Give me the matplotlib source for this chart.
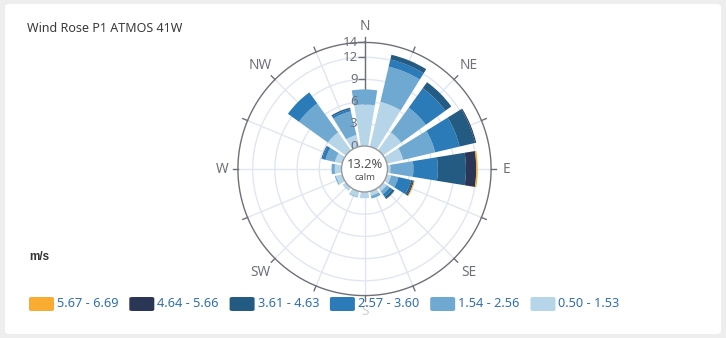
import numpy as np
import matplotlib
matplotlib.use("Agg")
import matplotlib.pyplot as plt
from matplotlib.patches import FancyBboxPatch, Circle
from matplotlib import markers
from matplotlib.transforms import offset_copy

plt.rcParams['font.family'] = ['Noto Sans', 'DejaVu Sans']

# ---- data ----
directions = ["N", "NNE", "NE", "ENE", "E", "ESE", "SE", "SSE",
              "S", "SSW", "SW", "WSW", "W", "WNW", "NW", "NNW"]
speed_bins = ["0.50 - 1.53", "1.54 - 2.56", "2.57 - 3.60",
              "3.61 - 4.63", "4.64 - 5.66", "5.67 - 6.69"]
# frequency (%) per direction, one list per speed bin
freq_050_153 = [5.6, 6.2, 3.0, 2.25, 0.4, 0.6, 0.6, 0.6, 0.85, 0.75, 0.55, 0.85, 0.9, 1.0, 3.0, 1.6]
freq_154_256 = [2.05, 4.9, 4.1, 4.45, 3.1, 1.0, 0.5, 0.4, 0.0, 0.1, 0.0, 0.15, 0.45, 1.3, 4.8, 3.3]
freq_257_360 = [0.0, 1.0, 3.25, 3.4, 3.3, 1.75, 0.45, 0.0, 0.0, 0.0, 0.0, 0.0, 0.0, 0.45, 1.85, 0.3]
freq_361_463 = [0.0, 0.65, 1.0, 2.15, 3.8, 0.25, 0.3, 0.0, 0.0, 0.0, 0.0, 0.0, 0.0, 0.12, 0.0, 0.2]
freq_464_566 = [0.0, 0.0, 0.0, 0.15, 1.4, 0.15, 0.05, 0.0, 0.0, 0.0, 0.0, 0.0, 0.0, 0.0, 0.0, 0.0]
freq_567_669 = [0.0, 0.0, 0.0, 0.0, 0.2, 0.12, 0.0, 0.0, 0.0, 0.0, 0.0, 0.0, 0.0, 0.0, 0.0, 0.0]
calm_pct = 13.2
radial_ticks = [0, 3, 6, 9, 12, 14]
compass_labels = ["N", "NE", "E", "SE", "S", "SW", "W", "NW"]

series = [freq_050_153, freq_154_256, freq_257_360, freq_361_463, freq_464_566, freq_567_669]
colors = ["#b7d5e8", "#6fa9d1", "#2b7bb9", "#235b83", "#2b3556", "#f9ab32"]

W, H = 726, 338
fig = plt.figure(figsize=(W / 100, H / 100), dpi=100, facecolor="#eeeeee")


def fx(px):
    return px / W


def fy(py):
    return 1 - py / H


# card
card = FancyBboxPatch((fx(5), fy(334)), fx(716), 330 / H,
                      boxstyle="round,pad=0,rounding_size=0.008",
                      transform=fig.transFigure, facecolor="white",
                      edgecolor="none", zorder=-10)
fig.patches.append(card)

fig.text(fx(27), fy(28), "Wind Rose P1 ATMOS 41W", fontsize=9,
         color="#3a3a3a", va="center", ha="left")

# polar axes
cx, cy, R = 364.5, 169.0, 126.6
ax = fig.add_axes([fx(cx - R), fy(cy + R), fx(2 * R), 2 * R / H], projection="polar")
ax.set_zorder(1)
ax.set_theta_zero_location("N")
ax.set_theta_direction(-1)
ax.set_ylim(0, 14)
ax.set_rorigin(-3.108)
ax.set_axis_off()

n = len(directions)
theta = np.arange(n) * 2 * np.pi / n
circ = np.linspace(0, 2 * np.pi, 400)
grid_c = "#e0e6f1"
axis_c = "#6e7079"

for v in radial_ticks[1:-1]:
    ax.plot(circ, np.full_like(circ, v), color=grid_c, lw=1, zorder=0)
for a in theta:
    ax.plot([a, a], [0, 14], color=grid_c, lw=1, zorder=0)
ax.plot(circ, np.full_like(circ, 14), color=axis_c, lw=1, zorder=1, clip_on=False)
for a in theta:
    ax.plot([a, a], [14, 14.7], color=axis_c, lw=1, clip_on=False)

# radial axis along north
ax.plot([0, 0], [0, 14], color=axis_c, lw=1, zorder=1)
lbl_tr = offset_copy(ax.transData, fig=fig, x=-7, y=0, units="dots")
for v in radial_ticks:
    ax.plot([0], [v], marker=markers.TICKLEFT, ms=5, mew=1, color=axis_c, zorder=1, clip_on=False)
    ax.text(0, v, str(v), transform=lbl_tr, ha="right", va="center",
            fontsize=9.5, color=axis_c, zorder=6)

# stacked bars
width = 2 * np.pi / n * 0.82
bottom = np.zeros(n)
for vals, c in zip(series, colors):
    vals = np.array(vals)
    ax.bar(theta, vals, width=width, bottom=bottom, color=c,
           edgecolor="none", linewidth=0, zorder=3)
    bottom += vals

# compass labels
for i, lab in enumerate(compass_labels):
    a = i * np.pi / 4
    rr = 16.1 if len(lab) == 1 else 16.75
    col = "#d0d0d0" if lab == "S" else axis_c
    ax.text(a, rr, lab, ha="center", va="center", fontsize=9.8,
            color=col, clip_on=False, zorder=1)

# calm circle
ax.add_patch(Circle((0.5, 0.5), 23 / (2 * R), transform=ax.transAxes,
                    facecolor="white", edgecolor="#999999", lw=1, zorder=7,
                    clip_on=False))
fig.text(fx(cx), fy(cy - 5), f"{calm_pct}%", ha="center", va="center",
         fontsize=9.3, color="#555555", zorder=8)
fig.text(fx(cx), fy(cy + 8), "calm", ha="center", va="center",
         fontsize=6.8, color="#555555", zorder=8)

# legend
fig.text(fx(29), fy(256.5), "m/s", fontsize=8.5, fontweight="bold",
         family=["Liberation Sans", "DejaVu Sans"],
         color="#333333", va="center", ha="left")
for k, (lab, c) in enumerate(zip(speed_bins[::-1], colors[::-1])):
    x0 = 29 + k * 100.3
    sw = FancyBboxPatch((fx(x0), fy(311)), fx(25), 14 / H,
                        boxstyle="round,pad=0,rounding_size=0.004",
                        transform=fig.transFigure, facecolor=c,
                        edgecolor="none", zorder=5)
    fig.patches.append(sw)
    fig.text(fx(x0 + 28), fy(303.5), lab, fontsize=9.2, color="#2f6fb1",
             va="center", ha="left", zorder=6)

fig.savefig("out.png", dpi=100, facecolor=fig.get_facecolor())
